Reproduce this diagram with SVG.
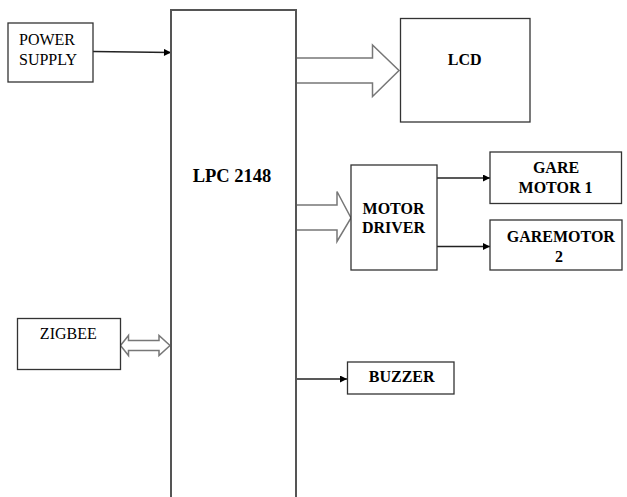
<svg xmlns="http://www.w3.org/2000/svg" width="627" height="497" viewBox="0 0 627 497">
<style>
.box{fill:#fff;stroke:#333;stroke-width:1.3}
.main{fill:none;stroke:#555;stroke-width:2}
text{font-family:'Liberation Serif','Times New Roman','DejaVu Serif',serif;font-size:16px;fill:#000}
.b{font-weight:bold;text-anchor:middle}
.big{font-size:18.5px}
.ln{stroke:#222;stroke-width:1.3;fill:none}
.blk{fill:#fff;stroke:#777;stroke-width:1.5;stroke-linejoin:miter}
</style>
<defs>
<marker id="ah" viewBox="0 0 10 10" refX="10" refY="5" markerWidth="8" markerHeight="7" markerUnits="userSpaceOnUse" orient="auto">
<path d="M0,0 L10,5 L0,10 Z" fill="#000"/>
</marker>
</defs>
<rect width="627" height="497" fill="#fff"/>
<g id="connectors">
<line class="ln" x1="93" y1="51.5" x2="171" y2="52.5" marker-end="url(#ah)"/>
<path class="blk" d="M296,58 H372.5 V45 L399,70.5 L372.5,96.5 V83 H296"/>
<path class="blk" d="M296,205 H337 V191.5 L351,218 L337,241.5 V230 H296"/>
<path class="blk" d="M120.5,345.5 L128.5,335.5 V340.5 H159 V335.5 L170,345.5 L159,355.5 V350.5 H128.5 V355.5 Z"/>
<line class="ln" x1="437" y1="178" x2="490" y2="178" marker-end="url(#ah)"/>
<line class="ln" x1="437" y1="246.5" x2="490" y2="246.5" marker-end="url(#ah)"/>
<line class="ln" x1="296" y1="379" x2="347" y2="379" marker-end="url(#ah)"/>
</g>
<g id="lpc">
<path class="main" d="M171,497 V10 H296 V497"/>
<text class="b big" x="232" y="181.5">LPC 2148</text>
</g>
<g id="power">
<rect class="box" x="8" y="23" width="85" height="59"/>
<text x="19" y="44.5">POWER</text>
<text x="19" y="65">SUPPLY</text>
</g>
<g id="lcd">
<rect class="box" x="400.5" y="18.5" width="129.5" height="103.5"/>
<text class="b" x="464.7" y="65">LCD</text>
</g>
<g id="motordriver">
<rect class="box" x="351" y="165" width="86" height="105"/>
<text class="b" x="393.5" y="214">MOTOR</text>
<text class="b" x="393.5" y="232.7">DRIVER</text>
</g>
<g id="motor1">
<rect class="box" x="490" y="152" width="131.5" height="51.5"/>
<text class="b" x="556" y="173">GARE</text>
<text class="b" x="555.5" y="192.7">MOTOR 1</text>
</g>
<g id="motor2">
<rect class="box" x="490" y="220" width="132" height="50"/>
<text class="b" x="560.8" y="241.7">GAREMOTOR</text>
<text class="b" x="559" y="261.7">2</text>
</g>
<g id="zigbee">
<rect class="box" x="17.5" y="318.5" width="103" height="51"/>
<text x="68.3" y="339.3" text-anchor="middle">ZIGBEE</text>
</g>
<g id="buzzer">
<rect class="box" x="347.5" y="362" width="106.5" height="32"/>
<text class="b" x="401.7" y="382.3">BUZZER</text>
</g>
</svg>
